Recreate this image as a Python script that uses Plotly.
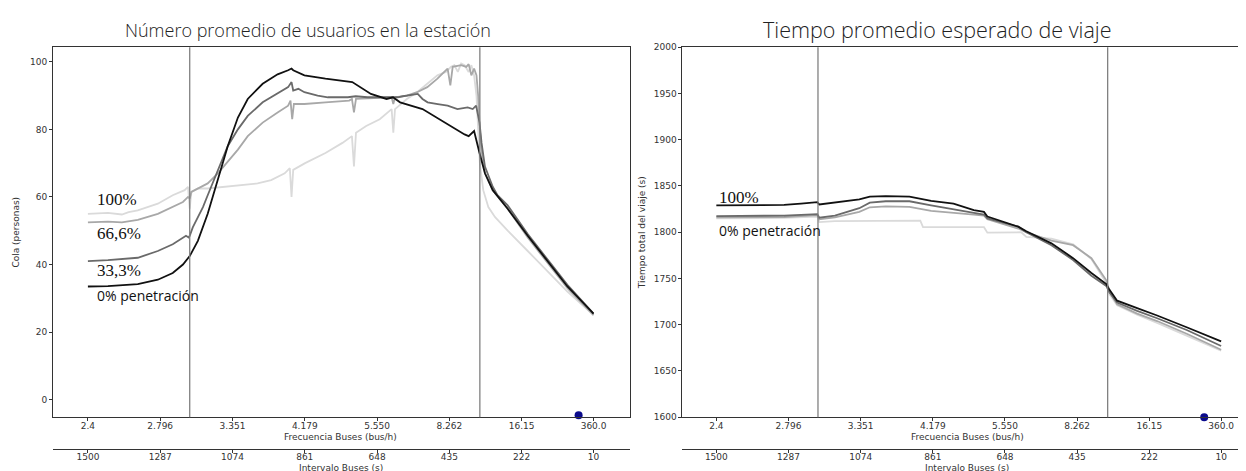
import plotly.graph_objects as go

W, H = 1246, 471

# ---------------- data ----------------
interval_ticks = [1500, 1287, 1074, 861, 648, 435, 222, 10]
freq_labels = ["2.4", "2.796", "3.351", "4.179", "5.550", "8.262", "16.15", "360.0"]
left_yticks = [0, 20, 40, 60, 80, 100]
right_yticks = [1600, 1650, 1700, 1750, 1800, 1850, 1900, 1950, 2000]
vlines = [1200, 345]

# Left panel: Cola (personas)
q0_x = [1500, 1441, 1353, 1294, 1250, 1220, 1200, 1176, 1147, 1117, 1088, 1058, 1029, 985, 941, 910, 900,
        895, 862, 800, 721, 666, 620, 601, 580, 514, 449, 416, 390, 378, 362, 346, 330, 307, 263, 204, 146, 87, 10]
q0_y = [33.5, 33.6, 34.2, 35.5, 37.5, 40, 42.5, 47, 55, 65, 75, 83.5, 89, 93.5, 96.3, 97.5, 98,
        97.5, 96, 95, 94, 90.5, 89, 89.5, 88, 86, 82, 80, 78.5, 78, 79.5, 73, 67, 62, 56.5, 48.5, 41, 33.5, 25.5]

q33_x = [1500, 1441, 1353, 1294, 1250, 1211, 1203, 1200, 1191, 1176, 1161, 1147, 1117, 1088, 1058, 1029, 985,
         941, 910, 900, 895, 880, 862, 823, 793, 764, 734, 711, 676, 631, 587, 572, 558, 528, 514, 499, 469, 440,
         411, 381, 366, 356, 346, 340, 330, 307, 293, 263, 204, 146, 87, 10]
q33_y = [41, 41.3, 42, 44, 46, 48.5, 48, 48.5, 51, 54, 57, 60.5, 68, 75, 80, 84, 88,
         90.5, 92.5, 94, 91.5, 92, 91, 90, 89.5, 89.5, 89.5, 89.8, 89.5, 89.5, 89.5, 89.8, 90, 90.5, 89, 88, 87.5, 87,
         86, 86.5, 86, 87, 82, 76, 69, 63, 60.5, 57.5, 49, 41.5, 34, 25.5]

q66_x = [1500, 1441, 1400, 1353, 1294, 1250, 1220, 1205, 1200, 1195, 1176, 1147, 1117, 1088, 1058, 1029, 985,
         941, 910, 903, 898, 893, 862, 800, 730, 722, 716, 710, 680, 640, 605, 600, 595, 560, 530, 500, 470, 450,
         440, 432, 425, 400, 385, 378, 370, 362, 355, 350, 345, 338, 330, 307, 263, 204, 146, 87, 10]
q66_y = [52.5, 52.7, 52.5, 53.2, 55, 57, 58.5, 60, 59.5, 61.5, 62.5, 64, 67, 70.5, 74, 78, 82,
         85, 87, 88.5, 83, 87.5, 87.5, 88, 88.5, 89, 85, 89, 89.2, 89.3, 89.5, 87.5, 89.5, 90, 91, 92.5, 95, 97,
         98, 93, 98.5, 99, 98.5, 99.3, 96, 98, 96, 90, 80, 72, 67, 62, 56.5, 48, 40.5, 33, 25]

q100_x = [1500, 1441, 1400, 1380, 1353, 1294, 1250, 1215, 1205, 1200, 1195, 1176, 1147, 1100, 1058, 1000, 960,
          920, 905, 900, 895, 860, 800, 750, 722, 716, 710, 680, 640, 605, 600, 595, 560, 530, 500, 470, 445,
          430, 420, 410, 400, 390, 378, 370, 362, 355, 350, 345, 335, 320, 300, 263, 204, 146, 87, 10]
q100_y = [55, 55.3, 54.8, 55.5, 56, 58, 60.5, 62, 63, 56.5, 61.5, 62.5, 62.5, 63, 63.5, 64, 65,
          67, 68.5, 60, 68, 70, 73, 76, 78, 69, 79, 81, 83, 86, 79, 86, 89, 91, 93.5, 96, 97,
          98.5, 99, 97, 99.5, 99, 97, 99, 96, 90, 80, 70, 62, 57, 54, 50, 44, 38, 32, 25]

# Right panel: Tiempo total del viaje (s)
t100_x = [1500, 1400, 1300, 1250, 1202, 1196, 1150, 1078, 1047, 1000, 930, 898, 866, 800, 740, 710, 700,
          609, 585, 511, 447, 393, 349, 340, 317, 258, 199, 110, 10]
t100_y = [1829, 1829, 1829.5, 1831, 1832.5, 1830, 1832, 1835.5, 1838.5, 1839, 1838.5, 1836, 1834, 1831, 1824, 1822, 1817,
          1806, 1801, 1788, 1772, 1756, 1744, 1738, 1726, 1718, 1710, 1697, 1682]

t66_x = [1500, 1400, 1300, 1202, 1196, 1150, 1078, 1047, 1000, 930, 898, 866, 740, 710, 700,
         609, 585, 511, 447, 393, 349, 340, 317, 258, 199, 110, 10]
t66_y = [1817.5, 1817.5, 1818, 1819.6, 1815.7, 1818, 1826, 1832, 1833.5, 1833.5, 1831, 1829, 1821, 1819, 1815,
         1806, 1800, 1786, 1770, 1753, 1742, 1735, 1724, 1715, 1707, 1694, 1677]

t33_x = [1500, 1400, 1300, 1202, 1196, 1150, 1078, 1047, 1000, 930, 898, 866, 740, 710, 700,
         609, 585, 511, 447, 393, 349, 340, 317, 258, 199, 110, 10]
t33_y = [1816, 1816, 1816.5, 1818.6, 1814, 1816, 1822, 1827, 1828, 1827.5, 1825, 1823, 1819, 1818, 1814,
         1804, 1800, 1791, 1786, 1772, 1748, 1736, 1722, 1712, 1704, 1690, 1673]

t0_x = [1500, 1400, 1300, 1202, 1196, 1150, 1000, 898, 890, 710, 700, 600, 585, 511, 447, 393, 349, 340,
        317, 258, 199, 110, 10]
t0_y = [1815, 1815, 1815.5, 1817, 1811, 1812, 1812.5, 1812.5, 1805.5, 1805.5, 1799.5, 1800, 1795, 1793, 1787, 1771,
        1745, 1733, 1721, 1711, 1702, 1688, 1672]

dot_left = [54, -4.6]
dot_right = [60, 1600]

# ---------------- styling ----------------
C_BLACK, C_DARK, C_MED, C_LIGHT = "#111111", "#6a6a6a", "#a8a8a8", "#dadada"
TICKC = "#333333"
TFONT = dict(family="DejaVu Sans", size=9, color=TICKC)

fig = go.Figure()

def add(x, y, color, xa, ya, width=1.8):
    fig.add_trace(go.Scatter(x=x, y=y, mode="lines", line=dict(color=color, width=width),
                             xaxis=xa, yaxis=ya, showlegend=False, hoverinfo="skip"))

# left
add(q100_x, q100_y, C_LIGHT, "x", "y")
add(q66_x, q66_y, C_MED, "x", "y")
add(q33_x, q33_y, C_DARK, "x", "y")
add(q0_x, q0_y, C_BLACK, "x", "y")
# right
add(t0_x, t0_y, C_LIGHT, "x2", "y2")
add(t33_x, t33_y, C_MED, "x2", "y2")
add(t66_x, t66_y, C_DARK, "x2", "y2")
add(t100_x, t100_y, C_BLACK, "x2", "y2")

# invisible traces for secondary axes
fig.add_trace(go.Scatter(x=interval_ticks, y=[None] * len(interval_ticks), xaxis="x3", yaxis="y",
                         showlegend=False, hoverinfo="skip", mode="lines"))
fig.add_trace(go.Scatter(x=interval_ticks, y=[None] * len(interval_ticks), xaxis="x4", yaxis="y2",
                         showlegend=False, hoverinfo="skip", mode="lines"))

# blue dots
fig.add_trace(go.Scatter(x=[dot_left[0]], y=[dot_left[1]], mode="markers", marker=dict(color="#0a0a8c", size=8),
                         xaxis="x", yaxis="y", showlegend=False, cliponaxis=False, hoverinfo="skip"))
fig.add_trace(go.Scatter(x=[dot_right[0]], y=[dot_right[1]], mode="markers", marker=dict(color="#0a0a8c", size=8),
                         xaxis="x2", yaxis="y2", showlegend=False, cliponaxis=False, hoverinfo="skip"))

def px(v):
    return v / W

def py(v):
    return 1 - v / H

XL = [px(45), px(622)]
XR = [px(675), 1.0]
YD = [py(413), py(35)]
XRANGE_L = [1603, -96]
XRANGE_R = [1600, -84]

def xax(rng, **kw):
    d = dict(range=rng, showgrid=False, zeroline=False, showline=True, linecolor=TICKC, linewidth=1,
             ticks="outside", ticklen=3, tickcolor=TICKC, tickfont=TFONT, tickvals=interval_ticks,
             ticklabelstandoff=-3)
    d.update(kw)
    return d

fig.update_layout(
    width=W, height=H, margin=dict(l=0, r=0, t=0, b=0),
    paper_bgcolor="white", plot_bgcolor="white",
    xaxis=xax(XRANGE_L, domain=XL, anchor="y", ticktext=freq_labels, mirror=True),
    xaxis2=xax(XRANGE_R, domain=XR, anchor="y2", ticktext=freq_labels, mirror=True),
    xaxis3=xax(XRANGE_L, overlaying="x", anchor="free", position=py(445), side="bottom",
               ticktext=[str(v) for v in interval_ticks]),
    xaxis4=xax(XRANGE_R, overlaying="x2", anchor="free", position=py(445), side="bottom",
               ticktext=[str(v) for v in interval_ticks]),
    yaxis=dict(domain=YD, anchor="x", range=[-5.2, 104.3], tickvals=left_yticks, showgrid=False, zeroline=False,
               showline=True, mirror=True, linecolor=TICKC, ticks="outside", ticklen=3, tickcolor=TICKC,
               tickfont=TFONT, title=dict(text="Cola (personas)", font=TFONT, standoff=8)),
    yaxis2=dict(domain=YD, anchor="x2", range=[1600, 2000], tickvals=right_yticks, showgrid=False, zeroline=False,
                showline=True, mirror=True, linecolor=TICKC, ticks="outside", ticklen=3, tickcolor=TICKC,
                tickfont=TFONT, title=dict(text="Tiempo total del viaje (s)", font=TFONT, standoff=6)),
)

for v in vlines:
    fig.add_shape(type="line", xref="x", yref="paper", x0=v, x1=v, y0=YD[0], y1=YD[1],
                  line=dict(color="#808080", width=1.3))
    fig.add_shape(type="line", xref="x2", yref="paper", x0=v, x1=v, y0=YD[0], y1=YD[1],
                  line=dict(color="#808080", width=1.3))

# axis titles (placed as annotations for exact positioning)
for cx in (333, 960):
    fig.add_annotation(text="Frecuencia Buses (bus/h)", x=px(cx), y=py(433), xref="paper", yref="paper",
                       showarrow=False, font=TFONT, xanchor="center", yanchor="middle")
    fig.add_annotation(text="Intervalo Buses (s)", x=px(cx), y=py(470.5), xref="paper", yref="paper",
                       showarrow=False, font=TFONT, xanchor="center", yanchor="bottom", borderpad=0)

fig.add_annotation(text="Número promedio de usuarios en la estación", x=px(300), y=py(17), xref="paper",
                   yref="paper", showarrow=False, font=dict(family="Open Sans", size=18, color="#222222", weight=300),
                   xanchor="center", yanchor="middle")
fig.add_annotation(text="Tiempo promedio esperado de viaje", x=px(930), y=py(17), xref="paper",
                   yref="paper", showarrow=False, font=dict(family="Open Sans", size=21.5, color="#222222", weight=300),
                   xanchor="center", yanchor="middle")

SER = dict(family="Liberation Serif", size=17, color="#111111")
SANS = dict(family="Open Sans", size=14, color="#111111")
labels = [("100%", 87, 191, SER), ("66,6%", 87, 225, SER), ("33,3%", 87, 263, SER),
          ("0% penetración", 87, 289, SANS), ("100%", 710, 189, SER), ("0% penetración", 710, 222, SANS)]
for t, lx, ly, f in labels:
    fig.add_annotation(text=t, x=px(lx), y=py(ly), xref="paper", yref="paper", showarrow=False, font=f,
                       xanchor="left", yanchor="middle")

fig.write_html("out.html")
